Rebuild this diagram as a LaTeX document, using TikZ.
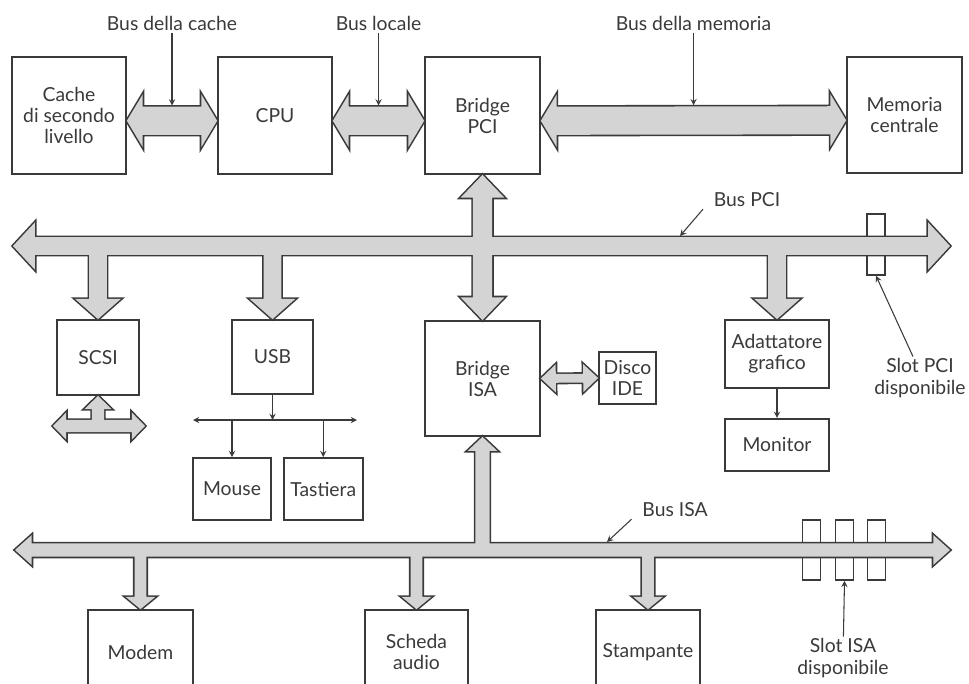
\documentclass[tikz,border=0pt]{standalone}
\usepackage{fontspec}
\setmainfont{Lato}
\usetikzlibrary{positioning,calc}

\definecolor{inkgray}{HTML}{3A3A3A}
\definecolor{busgray}{HTML}{D4D4D4}

\tikzset{
  blocco/.style={draw=inkgray, line width=1pt, fill=white, text=inkgray, align=center, inner sep=0pt},
  slot/.style={draw=inkgray, line width=0.9pt, fill=white, inner sep=0pt, minimum width=0.36cm, minimum height=1.2cm},
  lbl/.style={text=inkgray, align=center, inner sep=1pt},
  conn/.style={draw=inkgray, semithick},
  busedge/.style={draw=inkgray, line width=1.8pt},
  busfill/.style={fill=busgray},
}

% freccia larga: #1 passata, #2 coda, #3 punta, #4 semilarghezza, #5 semilarghezza punta, #6 lunghezza punta
\newcommand{\fatarrow}[6]{%
  \coordinate (fa-b) at ($#3!#6!#2$);
  \path[#1] #3 -- ($(fa-b)!#5!90:#3$) -- ($(fa-b)!#4!90:#3$) -- ($#2!#4!90:#3$)
    -- ($#2!#4!-90:#3$) -- ($(fa-b)!#4!-90:#3$) -- ($(fa-b)!#5!-90:#3$) -- cycle;}
% freccia larga con due punte
\newcommand{\fatboth}[6]{%
  \coordinate (fa-a) at ($#2!#6!#3$);
  \coordinate (fa-b) at ($#3!#6!#2$);
  \path[#1] #2 -- ($(fa-a)!#5!90:#3$) -- ($(fa-a)!#4!90:#3$) -- ($(fa-b)!#4!90:#3$) -- ($(fa-b)!#5!90:#3$)
    -- #3 -- ($(fa-b)!#5!-90:#3$) -- ($(fa-b)!#4!-90:#3$) -- ($(fa-a)!#4!-90:#3$) -- ($(fa-a)!#5!-90:#3$) -- cycle;}

\begin{document}
\begin{tikzpicture}[x=0.02cm, y=-0.02cm, >=stealth, every node/.style={font=\fontsize{11}{12}\selectfont}]
  \useasboundingbox (0,0) rectangle (969,683);
  \clip (0,0) rectangle (969,683);

  % blocchi in alto
  \node[blocco, minimum width=2.28cm, minimum height=2.34cm] (cache) at (69,115.5) {Cache\\di secondo\\livello};
  \node[blocco, minimum width=2.28cm, minimum height=2.34cm] (cpu) at (275,115.5) {CPU};
  \node[blocco, minimum width=2.3cm, minimum height=2.34cm] (bpci) at (482.5,115.5) {Bridge\\PCI};
  \node[blocco, minimum width=2.3cm, minimum height=2.32cm] (mem) at (904.5,115) {Memoria\\centrale};

  % blocchi sul bus PCI
  \node[blocco, minimum width=1.64cm, minimum height=1.5cm] (scsi) at (98,357.5) {SCSI};
  \node[blocco, minimum width=1.62cm, minimum height=1.48cm] (usb) at (272.5,357) {USB};
  \node[blocco, minimum width=2.3cm, minimum height=2.3cm] (bisa) at (482.5,378.5) {Bridge\\ISA};
  \node[blocco, minimum width=1.14cm, minimum height=1.04cm] (ide) at (627.5,378) {Disco\\IDE};
  \node[blocco, minimum width=2.08cm, minimum height=1.36cm] (vga) at (777,354) {Adattatore\\grafico};
  \node[blocco, minimum width=2.08cm, minimum height=1.04cm, below=0.58cm of vga] (monitor) {Monitor};
  \node[blocco, minimum width=1.56cm, minimum height=1.24cm] (mouse) at (232,489) {Mouse};
  \node[blocco, minimum width=1.58cm, minimum height=1.24cm, right=0.22cm of mouse] (kbd) {Tastiera};

  % blocchi sul bus ISA
  \node[blocco, minimum width=2.1cm, minimum height=1.68cm] (modem) at (140.5,652) {Modem};
  \node[blocco, minimum width=2.06cm, minimum height=1.68cm] (audio) at (416.5,652) {Scheda\\audio};
  \node[blocco, minimum width=2.08cm, minimum height=1.68cm] (printer) at (648,652) {Stampante};

  % slot liberi
  \node[slot, minimum height=1.22cm] (pcislot) at (876,244.5) {};
  \foreach \i/\x in {1/811.5,2/844.5,3/876.5}
    \node[slot] (isaslot\i) at (\x,550) {};

  % estremi dei bus
  \coordinate (pcil) at (13,246);
  \coordinate (pcir) at (950,246);
  \coordinate (isal) at (15,550);
  \coordinate (isar) at (950,550);
  \coordinate (scsil) at (53,426);
  \coordinate (scsir) at (145,426);

  % bus larghi: prima i bordi, poi il riempimento
  \foreach \pass in {busedge,busfill}{
    \fatboth{\pass}{([yshift=-3pt]cache.east)}{([yshift=-3pt]cpu.west)}{8pt}{15pt}{9pt}
    \fatboth{\pass}{([yshift=-3pt]cpu.east)}{([yshift=-3pt]bpci.west)}{8pt}{15pt}{9pt}
    \fatboth{\pass}{([yshift=-3pt]bpci.east)}{([yshift=-3pt]mem.west)}{8pt}{15pt}{9pt}
    \fatboth{\pass}{(pcil)}{(pcir)}{5pt}{13.5pt}{12.5pt}
    \fatboth{\pass}{(bpci.south)}{(bisa.north)}{5.5pt}{12.5pt}{13pt}
    \fatarrow{\pass}{(scsi.north |- pcil)}{(scsi.north)}{5pt}{13pt}{11.5pt}
    \fatarrow{\pass}{(usb.north |- pcil)}{(usb.north)}{5pt}{13pt}{11.5pt}
    \fatarrow{\pass}{(vga.north |- pcil)}{(vga.north)}{5pt}{13pt}{11.5pt}
    \fatboth{\pass}{(scsil)}{(scsir)}{3.5pt}{7.7pt}{7.5pt}
    \fatarrow{\pass}{(scsi.south |- scsil)}{(scsi.south)}{3.5pt}{7.7pt}{7.5pt}
    \fatboth{\pass}{(bisa.east)}{(ide.west)}{2.5pt}{8pt}{8.5pt}
    \fatboth{\pass}{(isal)}{(isar)}{3.8pt}{8.5pt}{9.5pt}
    \fatarrow{\pass}{(bisa.south |- isal)}{(bisa.south)}{4pt}{8.5pt}{8pt}
    \fatarrow{\pass}{(modem.north |- isal)}{(modem.north)}{3.4pt}{8.5pt}{7pt}
    \fatarrow{\pass}{(audio.north |- isal)}{(audio.north)}{3.4pt}{8.5pt}{7pt}
    \fatarrow{\pass}{(printer.north |- isal)}{(printer.north)}{3.4pt}{8.5pt}{7pt}
  }

  % USB verso mouse e tastiera
  \coordinate (usbl) at (193,420);
  \coordinate (usbr) at (357,420);
  \draw[conn, ->] (usb.south) -- (usb.south |- usbl);
  \draw[conn, <->] (usbl) -- (usbr);
  \draw[conn, ->] (mouse.north |- usbl) -- (mouse.north);
  \draw[conn, ->] (kbd.north |- usbl) -- (kbd.north);
  \draw[conn, ->] (vga) -- (monitor);

  % etichette dei bus
  \node[lbl] (lcache) at ($(cache.east)!0.5!(cpu.west)+(0,-92)$) {Bus della cache};
  \node[lbl] (llocal) at ($(cpu.east)!0.5!(bpci.west)+(0,-92)$) {Bus locale};
  \node[lbl] (lmem) at ($(bpci.east)!0.5!(mem.west)+(0,-92)$) {Bus della memoria};
  \coordinate (tcache) at ($(cache.east)!0.5!(cpu.west)+(0,-10)$);
  \coordinate (tlocal) at ($(cpu.east)!0.5!(bpci.west)+(0,-10)$);
  \coordinate (tmem) at ($(bpci.east)!0.5!(mem.west)+(0,-10)$);
  \draw[conn, ->] (lcache) -- (tcache);
  \draw[conn, ->] (llocal) -- (tlocal);
  \draw[conn, ->] (lmem) -- (tmem);

  \node[lbl] (lpci) at (747,200) {Bus PCI};
  \coordinate (tpci) at (680,236);
  \draw[conn, ->] ([xshift=-5pt]lpci.south west) -- (tpci);
  \node[lbl] (lisa) at (675,510) {Bus ISA};
  \coordinate (tisa) at (607,542);
  \draw[conn, ->] ([xshift=-5pt]lisa.south west) -- (tisa);

  % etichette degli slot
  \node[lbl] (lslotpci) at (920,378) {Slot PCI\\disponibile};
  \draw[conn, ->] ([xshift=-4pt]lslotpci.north) -- (pcislot.south);
  \node[lbl] (lslotisa) at (843,658) {Slot ISA\\disponibile};
  \draw[conn, ->] (lslotisa) -- (isaslot2.south);
\end{tikzpicture}
\end{document}
